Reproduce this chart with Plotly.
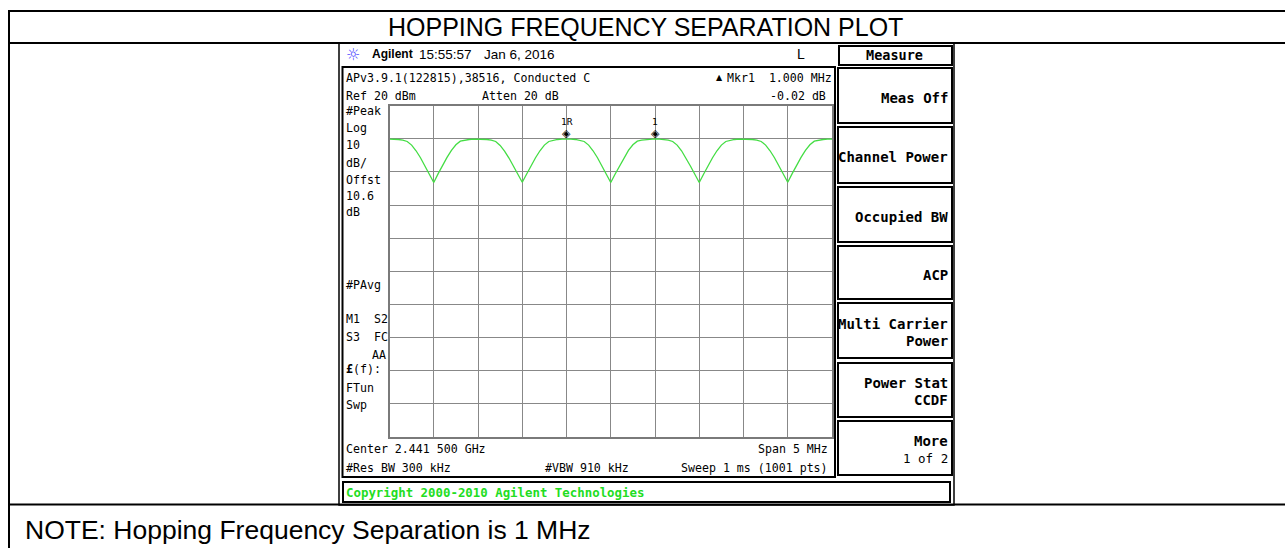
import plotly.graph_objects as go

W, H = 1285, 548

# ---------------- data ----------------
center_mhz = 2441.5
span_mhz = 5.0
n_pts = 101
start_mhz = center_mhz - span_mhz / 2
step_mhz = span_mhz / (n_pts - 1)
freq_mhz = [round(start_mhz + step_mhz * i, 3) for i in range(n_pts)]

level_dbm = [
    9.9, 9.9, 9.8, 9.6, 9.2, 8.1, 6.4, 4.3, 1.9, -0.6, -3.2,
    -0.5, 2.0, 4.4, 6.5, 8.2, 9.3, 9.6, 9.8, 9.9, 9.9,
    9.9, 9.8, 9.6, 9.2, 8.0, 6.3, 4.2, 1.8, -0.7, -3.1,
    -0.6, 1.9, 4.3, 6.4, 8.1, 9.2, 9.6, 9.8, 9.9, 10.0,
    9.9, 9.8, 9.6, 9.2, 8.1, 6.4, 4.3, 1.9, -0.6, -3.2,
    -0.6, 1.9, 4.3, 6.5, 8.2, 9.3, 9.6, 9.8, 9.9, 9.98,
    9.9, 9.8, 9.6, 9.2, 8.1, 6.4, 4.2, 1.8, -0.7, -3.2,
    -0.6, 1.9, 4.3, 6.4, 8.1, 9.2, 9.6, 9.8, 9.9, 9.9,
    9.9, 9.8, 9.6, 9.2, 8.1, 6.4, 4.3, 1.9, -0.6, -3.1,
    -0.5, 2.0, 4.4, 6.5, 8.2, 9.3, 9.6, 9.8, 9.9, 9.9,
]

marker_freq_mhz = [2441.0, 2442.0]
marker_level_dbm = [9.98, 9.96]
marker_labels = ["1R", "1"]

ref_level_dbm = 20
db_per_div = 10
n_div = 10

softkeys = ["Meas Off", "Channel Power", "Occupied BW", "ACP",
            "Multi Carrier|Power", "Power Stat|CCDF", "More|1 of 2"]

# ---------------- helpers ----------------
def px(x):
    return x / W

def py(y):
    return 1 - y / H

MONO = "DejaVu Sans Mono"
SANS = "Liberation Sans, Arial, sans-serif"

annotations = []
shapes = []

def txt(x, y, s, anchor="left", size=11.6, family=MONO, color="black"):
    annotations.append(dict(
        x=px(x), y=py(y), xref="paper", yref="paper", text=s,
        showarrow=False, xanchor=anchor, yanchor="middle",
        font=dict(family=family, size=size, color=color),
        borderpad=0))

def hline(y, x0, x1, w=2, color="black"):
    shapes.append(dict(type="line", xref="paper", yref="paper",
                       x0=px(x0), x1=px(x1), y0=py(y), y1=py(y),
                       line=dict(color=color, width=w)))

def vline(x, y0, y1, w=2, color="black"):
    shapes.append(dict(type="line", xref="paper", yref="paper",
                       x0=px(x), x1=px(x), y0=py(y0), y1=py(y1),
                       line=dict(color=color, width=w)))

def rect(x0, y0, x1, y1, w=2, color="black"):
    shapes.append(dict(type="rect", xref="paper", yref="paper",
                       x0=px(x0), x1=px(x1), y0=py(y1), y1=py(y0),
                       line=dict(color=color, width=w)))

# ---------------- outer table ----------------
hline(11, 8, W)
hline(43, 8, W)
hline(504.5, 8, W)
vline(9, 10, H)

txt(645, 27, "HOPPING FREQUENCY SEPARATION PLOT", anchor="center", size=25, family=SANS)
txt(24, 530, "NOTE: Hopping Frequency Separation is 1 MHz", size=26.5, family=SANS)

# ---------------- instrument screenshot ----------------
rect(339, 43, 954, 505, w=1.5)
rect(342.5, 67, 835, 477, w=2)

# header
txt(353, 54, "☼", anchor="center", size=16, family="DejaVu Sans", color="#5050ff")
txt(371, 54, "<b>Agilent</b>", size=12, family=SANS)
txt(418, 54, "15:55:57", size=13.5, family=SANS)
txt(483, 54, "Jan 6, 2016", size=13.5, family=SANS)
txt(801, 54, "L", anchor="center", size=14, family=SANS)

# Measure header box
rect(839, 46, 952, 65)
txt(894, 55, "<b>Measure</b>", anchor="center", size=13.5)

# softkeys
box_tops = [68, 127, 187, 246, 303, 363, 421]
box_bots = [123, 183, 242, 299, 358, 417, 475]
for label, t, b in zip(softkeys, box_tops, box_bots):
    rect(838, t, 952, b)
    parts = label.split("|")
    mid = (t + b) / 2
    if len(parts) == 1:
        txt(949, mid + 2, "<b>%s</b>" % parts[0], anchor="right", size=14)
    else:
        txt(949, mid - 7, "<b>%s</b>" % parts[0], anchor="right", size=14)
        if parts[1] == "1 of 2":
            txt(949, mid + 10, parts[1], anchor="right", size=12.5)
        else:
            txt(949, mid + 10, "<b>%s</b>" % parts[1], anchor="right", size=14)

# info text
txt(345, 77.5, "APv3.9.1(122815),38516, Conducted C")
txt(719, 77.5, "▲", anchor="center", size=8, family="DejaVu Sans")
txt(833, 77.5, "Mkr1  1.000 MHz", anchor="right")
txt(345, 96, "Ref 20 dBm")
txt(481, 96, "Atten 20 dB")
txt(827, 96, "-0.02 dB", anchor="right")

left_labels = [("#Peak", 111), ("Log", 128), ("10", 145), ("dB/", 162.5),
               ("Offst", 179.5), ("10.6", 196), ("dB", 211.5), ("#PAvg", 285),
               ("M1  S2", 319), ("S3  FC", 336.5), ("<b>£</b>(f):", 369),
               ("FTun", 388), ("Swp", 405)]
for s, y in left_labels:
    txt(345, y, s)
txt(387, 355, "AA", anchor="right")

txt(345, 449, "Center 2.441 500 GHz")
txt(829, 449, "Span 5 MHz", anchor="right")
txt(345, 467.5, "#Res BW 300 kHz")
txt(544, 467.5, "#VBW 910 kHz")
txt(829, 467.5, "Sweep 1 ms (1001 pts)", anchor="right")

rect(343, 482, 950, 502)
txt(345, 492, "<b>Copyright 2000-2010 Agilent Technologies</b>", size=12.4, color="#22dd22")

# ---------------- spectrum trace ----------------
fig = go.Figure()
fig.add_trace(go.Scatter(
    x=freq_mhz, y=level_dbm, mode="lines",
    line=dict(color="#44dd44", width=1.3), hoverinfo="skip"))

for f, lv, lab in zip(marker_freq_mhz, marker_level_dbm, marker_labels):
    annotations.append(dict(x=f, y=lv, xref="x", yref="y", text="◈",
                            showarrow=False, yshift=5,
                            font=dict(family="DejaVu Sans", size=11, color="black")))
    annotations.append(dict(x=f, y=lv, xref="x", yref="y", text=lab,
                            showarrow=False, yshift=17,
                            font=dict(family=MONO, size=9.5, color="black")))

axis_common = dict(showgrid=True, gridcolor="#888888", gridwidth=1,
                   showticklabels=False, ticks="", zeroline=False,
                   showline=True, mirror=True, linecolor="#7a7a7a", linewidth=2,
                   fixedrange=True)

fig.update_layout(
    width=W, height=H,
    margin=dict(l=0, r=0, t=0, b=0),
    paper_bgcolor="white", plot_bgcolor="white",
    showlegend=False,
    xaxis=dict(range=[start_mhz, start_mhz + span_mhz], tick0=start_mhz,
               dtick=span_mhz / n_div, domain=[px(389.5), px(832)], **axis_common),
    yaxis=dict(range=[ref_level_dbm - db_per_div * n_div, ref_level_dbm],
               tick0=ref_level_dbm, dtick=db_per_div,
               domain=[py(437), py(105.7)], **axis_common),
    shapes=shapes,
    annotations=annotations,
)

fig.write_html("out.html", config={"displayModeBar": False},
               post_script="document.body.style.margin='0';document.body.style.overflow='hidden';")
